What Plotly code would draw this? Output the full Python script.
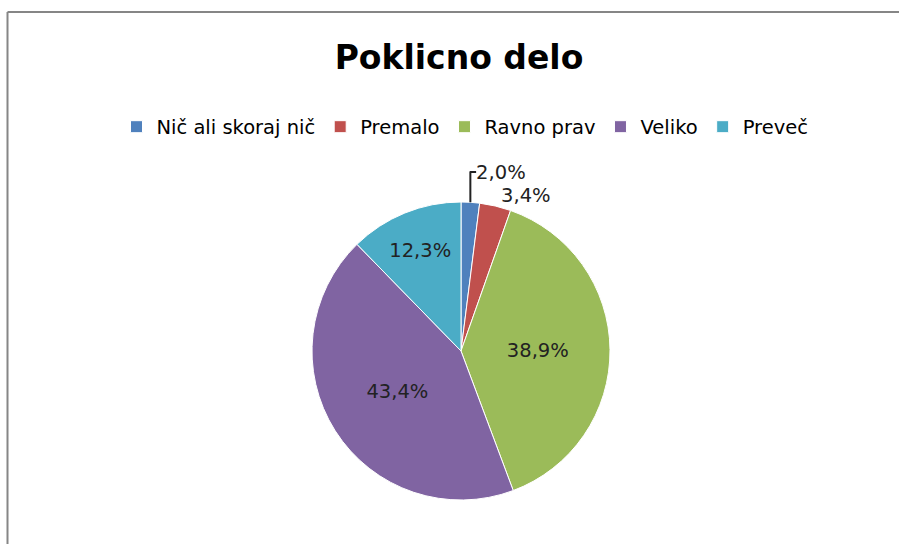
import plotly.graph_objects as go

labels = ["Nič ali skoraj nič", "Premalo", "Ravno prav", "Veliko", "Preveč"]
values = [2.0, 3.4, 38.9, 43.4, 12.3]
colors = ["#4F81BD", "#C0504D", "#9BBB59", "#8064A2", "#4BACC6"]
text_positions = ["outside", "outside", "inside", "inside", "inside"]

W, H = 899, 544
cx, cy, r = 461, 351, 149

fig = go.Figure(go.Pie(
    labels=labels,
    values=values,
    sort=False,
    direction="clockwise",
    rotation=0,
    marker=dict(colors=colors, line=dict(color="white", width=1)),
    texttemplate="%{percent:.1%}",
    textposition=text_positions,
    textfont=dict(family="DejaVu Sans", size=19.5, color="#222222"),
    insidetextorientation="horizontal",
    domain=dict(x=[(cx - r) / W, (cx + r) / W], y=[(H - cy - r) / H, (H - cy + r) / H]),
    showlegend=True,
    hoverinfo="label+percent",
))

fig.update_layout(
    width=W,
    height=H,
    separators=",.",
    paper_bgcolor="white",
    margin=dict(l=0, r=0, t=0, b=0),
    font=dict(family="DejaVu Sans", color="#000000"),
    title=dict(text="<b>Poklicno delo</b>", x=459 / W, xanchor="center", y=1 - 57.5 / H, yanchor="middle",
               font=dict(family="DejaVu Sans", size=33, color="#000000")),
    legend=dict(orientation="h", x=465 / W, xanchor="center", y=1 - 127 / H, yanchor="middle",
                font=dict(family="DejaVu Sans", size=19.5, color="#000000"), itemwidth=30,
                traceorder="normal"),
    shapes=[
        dict(type="line", xref="paper", yref="paper", x0=7.5 / W, x1=1, y0=1 - 12 / H, y1=1 - 12 / H,
             line=dict(color="#868686", width=2)),
        dict(type="line", xref="paper", yref="paper", x0=7.5 / W, x1=7.5 / W, y0=0, y1=1 - 12 / H,
             line=dict(color="#868686", width=2)),
    ],
)

fig.write_html("out.html", config={"displayModeBar": False},
               post_script="document.body.style.margin='0';")
